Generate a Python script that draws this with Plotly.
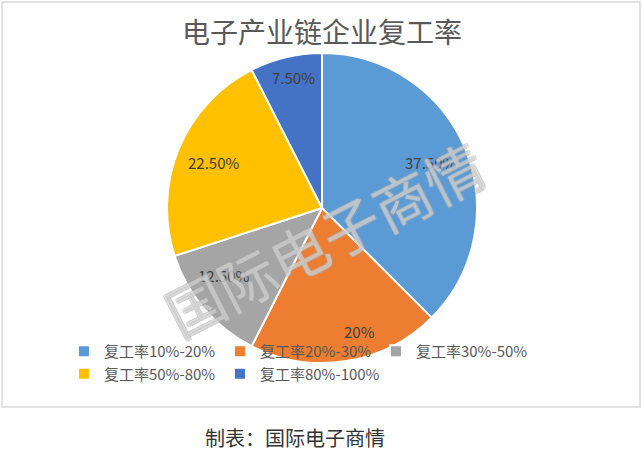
import math
import plotly.graph_objects as go

categories = ["复工率10%-20%", "复工率20%-30%", "复工率30%-50%", "复工率50%-80%", "复工率80%-100%"]
values = [37.5, 20, 12.5, 22.5, 7.5]
value_labels = ["37.50%", "20%", "12.50%", "22.50%", "7.50%"]
colors = ["#5B9BD5", "#ED7D31", "#A5A5A5", "#FFC000", "#4472C4"]

W, H = 644, 452
FONT = "Noto Sans CJK SC, Microsoft YaHei, sans-serif"

# pie geometry (pixels) and label placement style
CX, CY, R = 322, 208, 155
label_radius = [0.76, 0.835, 0.77, 0.76, 0.86]
label_angle_nudge = [0, -8, 6, 0, 1]  # degrees

fig = go.Figure(go.Pie(
    labels=categories,
    values=values,
    textinfo="none",
    marker=dict(colors=colors, line=dict(color="white", width=2)),
    sort=False,
    direction="clockwise",
    rotation=0,
    hoverinfo="label+percent",
    domain=dict(x=[0, 1], y=[1 - (CY + R) / H, 1 - (CY - R) / H]),
))

# chart border
fig.add_shape(type="rect", xref="paper", yref="paper",
              x0=2 / W, x1=640 / W, y0=1 - 407 / H, y1=1 - 2 / H,
              line=dict(color="#D9D9D9", width=1.5), layer="below")

# data labels placed around the angular middle of each slice
total = sum(values)
cum = 0.0
for v, lab, f, nud in zip(values, value_labels, label_radius, label_angle_nudge):
    mid = (cum + v / 2) / total * 2 * math.pi + math.radians(nud)
    cum += v
    px = CX + f * R * math.sin(mid)
    py = CY - f * R * math.cos(mid)
    fig.add_annotation(text=lab, xref="paper", yref="paper", x=px / W, y=1 - py / H,
                       xanchor="center", yanchor="middle",
                       showarrow=False, font=dict(size=15, color="#404040", family=FONT))

# watermark (over the labels, see-through fill)
fig.add_annotation(text="国际电子商情", xref="paper", yref="paper",
                   x=324 / W, y=1 - 238 / H, xanchor="center", yanchor="middle",
                   showarrow=False, textangle=-27,
                   font=dict(size=58, color="rgba(255,255,255,0.35)", family=FONT,
                             shadow="-1px -1px 0 #a8a8a8, 1px -1px 0 #a8a8a8, -1px 1px 0 #a8a8a8, 1px 1px 0 #a8a8a8"))

# caption
fig.add_annotation(text="制表：国际电子商情", xref="paper", yref="paper",
                   x=295 / W, y=1 - 437 / H, xanchor="center", yanchor="middle",
                   showarrow=False,
                   font=dict(size=20, color="#333333", family=FONT))

fig.update_layout(
    width=W, height=H,
    margin=dict(l=0, r=0, t=0, b=0),
    paper_bgcolor="white",
    plot_bgcolor="white",
    title=dict(text="电子产业链企业复工率", x=0.5, xanchor="center",
               y=1 - 33 / H, yanchor="middle",
               font=dict(size=28, color="#595959", family=FONT)),
    legend=dict(orientation="h", x=86 / W, xanchor="left", y=1 - 335 / H, yanchor="top",
                font=dict(size=15, color="#595959", family=FONT),
                bgcolor="rgba(0,0,0,0)", entrywidth=111, entrywidthmode="pixels",
                itemwidth=30, tracegroupgap=0),
    showlegend=True,
)

fig.write_html("out.html", config={"displayModeBar": False},
               post_script="document.body.style.margin='0';")
